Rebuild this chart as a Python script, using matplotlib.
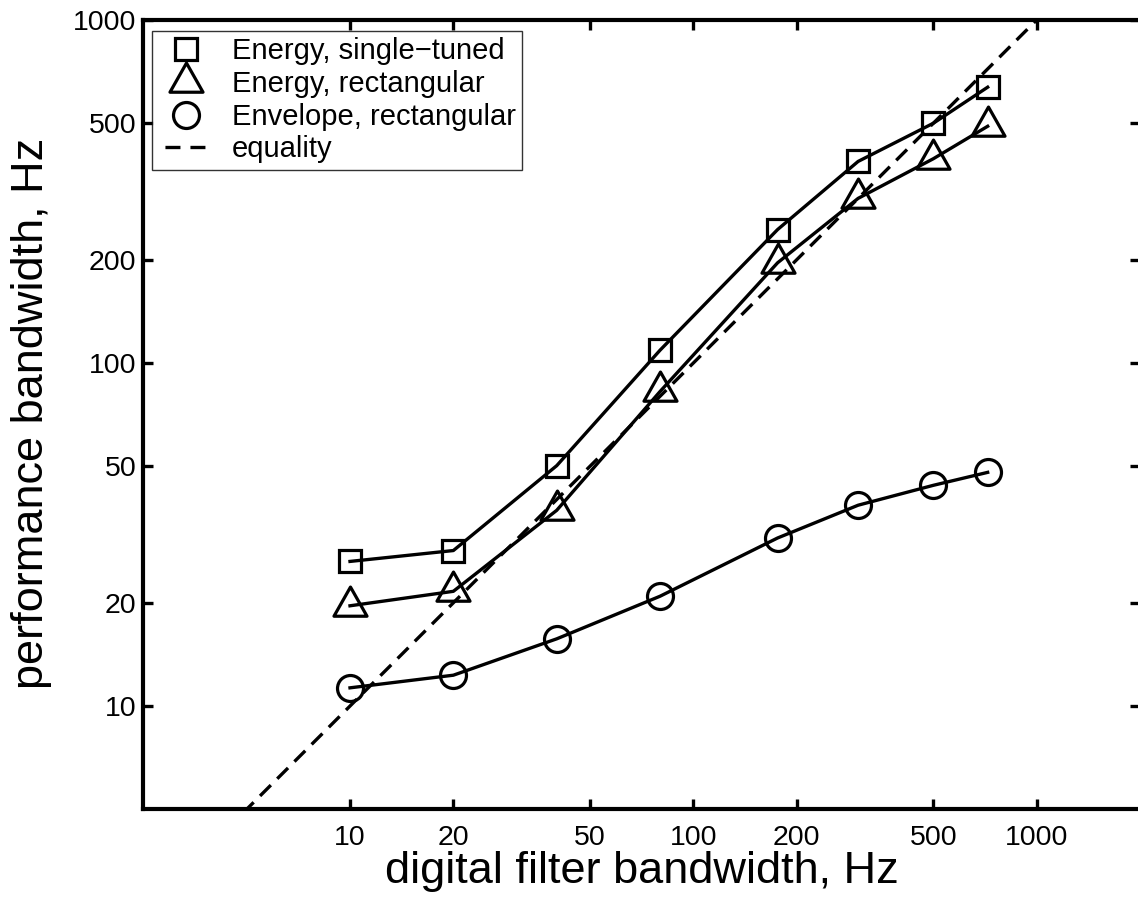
import matplotlib
matplotlib.use("Agg")
import matplotlib.pyplot as plt
from matplotlib.lines import Line2D
from matplotlib.path import Path
from matplotlib.ticker import FixedLocator, FixedFormatter, NullLocator

# digital filter bandwidths (Hz)
bandwidth = [10, 20, 40, 80, 176, 302, 500, 720]

# measured performance bandwidths (Hz)
energy_single = [26.4, 28.4, 50.2, 109, 245, 387, 500, 637]
energy_rect = [19.6, 21.6, 37.2, 82.6, 196, 302, 394, 490]
envelope_rect = [11.3, 12.3, 15.7, 20.9, 30.9, 38.5, 44.0, 48.0]

equality = [1, 10000]
tick_values = [10, 20, 50, 100, 200, 500, 1000]
tick_labels = ["10", "20", "50", "100", "200", "500", "1000"]

plt.rcParams["font.family"] = ["Liberation Sans", "DejaVu Sans"]
plt.rcParams["lines.scale_dashes"] = False

W, H = 1138, 898
fig = plt.figure(figsize=(W / 100, H / 100), dpi=100)
# axes box in pixels: left 143, right 1140 (just off the image), top 20, bottom 809
ax = fig.add_axes([143.3 / W, (H - 809.3) / H, (1140 - 143.3) / W, (809.3 - 20) / H])

# matlab-like triangle, data point at the centroid
tri = Path([(0, 1), (-0.85, -0.5), (0.85, -0.5), (0, 1)],
           [Path.MOVETO, Path.LINETO, Path.LINETO, Path.CLOSEPOLY])

lw = 2.4
mew = 2.3
common = dict(color="black", lw=lw, mfc="none", mec="black", mew=mew)
ax.plot(bandwidth, energy_single, marker="s", ms=15.8, **common)
ax.plot(bandwidth, energy_rect, marker=tri, ms=28, **common)
ax.plot(bandwidth, envelope_rect, marker="o", ms=18.7, **common)
ax.plot(equality, equality, color="black", lw=lw, dashes=(11, 6.5))

ax.set_xscale("log")
ax.set_yscale("log")
ax.set_xlim(2.5, 2000)
ax.set_ylim(5, 1000)

for axis in (ax.xaxis, ax.yaxis):
    axis.set_major_locator(FixedLocator(tick_values))
    axis.set_major_formatter(FixedFormatter(tick_labels))
    axis.set_minor_locator(NullLocator())

ax.tick_params(which="major", direction="in", length=7, width=2.4,
               top=True, right=True, labelsize=20.5, pad=11)
ax.tick_params(axis="y", pad=5)
for sp in ax.spines.values():
    sp.set_linewidth(3.0)

ax.set_xlabel("digital filter bandwidth, Hz", fontsize=32.5)
ax.set_ylabel("performance bandwidth, Hz", fontsize=32.5)
ax.xaxis.set_label_coords(0.5, (809.3 - 883) / 789.3)
ax.xaxis.label.set_va("baseline")
ax.yaxis.set_label_coords((32 - 143.3) / 996.7, (809.3 - 413) / 789.3)
ax.yaxis.label.set_va("center")

handles = [
    Line2D([], [], ls="none", marker="s", ms=15.8, mfc="none", mec="black", mew=mew),
    Line2D([], [], ls="none", marker=tri, ms=28, mfc="none", mec="black", mew=mew),
    Line2D([], [], ls="none", marker="o", ms=18.7, mfc="none", mec="black", mew=mew),
    Line2D([], [], color="black", lw=lw, linestyle=(13, (10.8, 7.2))),
]
labels = ["Energy, single\u2212tuned", "Energy, rectangular",
          "Envelope, rectangular", "equality"]
leg = ax.legend(handles, labels, loc="upper left",
                bbox_to_anchor=((152 - 143.3) / 996.7, (809.3 - 31) / 789.3),
                borderaxespad=0, fontsize=21, frameon=True, fancybox=False,
                handlelength=1.9, handletextpad=0.62, borderpad=0.22,
                labelspacing=0.16)
leg.get_frame().set_edgecolor("black")
leg.get_frame().set_linewidth(1.0)

fig.savefig("out.png", dpi=100)
